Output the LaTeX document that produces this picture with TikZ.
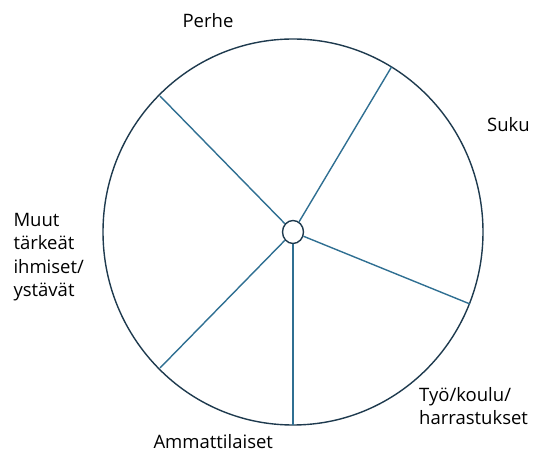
\documentclass[tikz,border=0pt]{standalone}
\usepackage{fontspec}
\setmainfont{Open Sans}
\usetikzlibrary{shapes.geometric}
\definecolor{rimcol}{HTML}{1E3A4E}
\definecolor{spokecol}{HTML}{2F6F92}
\begin{document}
\begin{tikzpicture}[x=1pt,y=-1pt,
  rim/.style={draw=rimcol,line width=1.4pt},
  spoke/.style={draw=spokecol,line width=1.4pt},
  lbl/.style={font=\fontsize{18.5}{23.3}\selectfont,inner sep=0pt,text=black}]
\useasboundingbox (0,0) rectangle (539,454);
\draw[rim] (293,232) ellipse [x radius=190, y radius=193];
\node[rim,ellipse,minimum width=21pt,minimum height=23pt,inner sep=0pt,fill=white] (c) at (293,232) {};
\coordinate (pPerhe) at (160,96);
\coordinate (pSuku) at (391.5,67);
\coordinate (pTyo) at (470,304);
\coordinate (pAmm) at (293,425);
\coordinate (pMuut) at (160,368);
\foreach \p in {pPerhe,pSuku,pTyo,pAmm,pMuut} \draw[spoke] (c) -- (\p);
\node[lbl,anchor=base] (tPerhe) at (208,27.7) {Perhe};
\node[lbl,anchor=base] (tSuku) at (508.5,132) {Suku};
\node[lbl,anchor=base west,align=left] (tMuut) at (13.3,296.6) {Muut\\tärkeät\\ihmiset/\\ystävät};
\node[lbl,anchor=base west,align=left] (tTyo) at (419,424.5) {Työ/koulu/\\harrastukset};
\node[lbl,anchor=base west] (tAmm) at (153.3,449) {Ammattilaiset};
\end{tikzpicture}
\end{document}
